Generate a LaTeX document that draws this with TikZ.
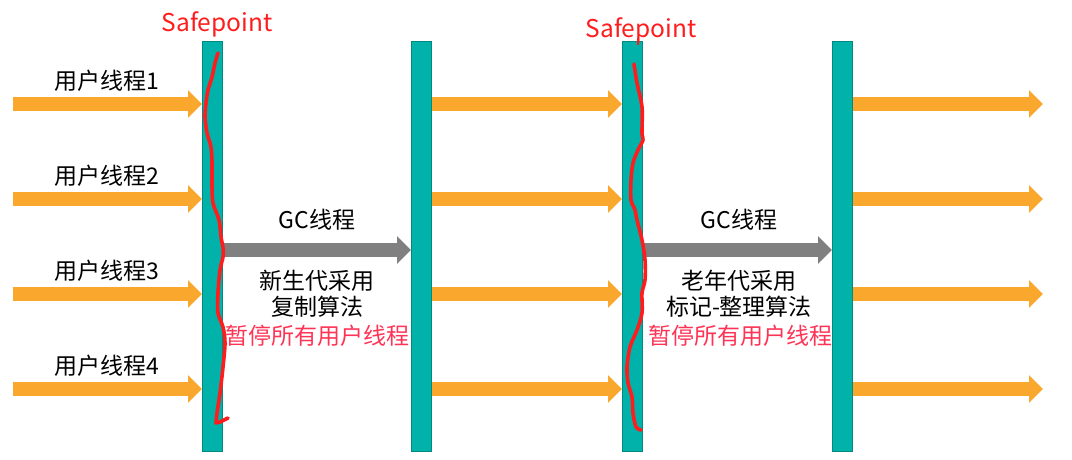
\documentclass[tikz,border=0pt]{standalone}
\usepackage{fontspec}
\setmainfont{Noto Sans CJK SC}
\usetikzlibrary{arrows.meta}
\definecolor{barfill}{RGB}{0,178,169}
\definecolor{barline}{RGB}{0,138,128}
\definecolor{flow}{RGB}{250,167,46}
\definecolor{gcgray}{RGB}{128,128,128}
\definecolor{markred}{RGB}{255,28,28}
\definecolor{pausered}{RGB}{255,51,85}
\begin{document}
\begin{tikzpicture}[x=1pt,y=-1pt,
  bar/.style={draw=barline,fill=barfill,line width=1pt,minimum width=20pt,minimum height=410pt,inner sep=0pt},
  flowarrow/.style={draw=flow,line width=14pt,-{Triangle[width=27pt,length=14pt]},fill=flow},
  gcarrow/.style={draw=gcgray,line width=14pt,-{Triangle[width=27pt,length=14pt]},fill=gcgray},
  lbl/.style={font=\fontsize{23}{26}\selectfont,inner sep=0pt,text=black},
  safe/.style={font=\fontsize{24.5}{28}\selectfont,inner sep=0pt,text=markred},
  pause/.style={font=\fontsize{23}{26}\selectfont,inner sep=0pt,text=pausered},
  squiggle/.style={draw=markred,line width=3.6pt,line cap=round,line join=round}]
\useasboundingbox (0,0) rectangle (1072,459);
% bars
\node[bar] (b1) at (212.5,246) {};
\node[bar] (b2) at (421.5,246) {};
\node[bar] (b3) at (632.5,246) {};
\node[bar] (b4) at (842.5,246) {};
% row coordinates
\coordinate (s1) at (13,104);
\coordinate (s2) at (13,199);
\coordinate (s3) at (13,294);
\coordinate (s4) at (13,389);
\coordinate (e1) at (1043,104);
\coordinate (e2) at (1043,199);
\coordinate (e3) at (1043,294);
\coordinate (e4) at (1043,389);
\coordinate (g) at (0,250);
% orange arrows
\foreach \i in {1,2,3,4}{
  \draw[flowarrow] (s\i) -- (s\i -| b1.west);
  \draw[flowarrow] (b2.east |- s\i) -- (b3.west |- s\i);
  \draw[flowarrow] (b4.east |- s\i) -- (e\i);
}
% gc arrows
\draw[gcarrow] (b1.east |- g) -- (b2.west |- g);
\draw[gcarrow] (b3.east |- g) -- (b4.west |- g);
% labels
\node[lbl] (u1) at (107,81) {用户线程1};
\node[lbl] (u2) at (107,176) {用户线程2};
\node[lbl] (u3) at (107,271) {用户线程3};
\node[lbl] (u4) at (107,366) {用户线程4};
\node[safe] (sp1) at (217,24) {Safepoint};
\node[safe] (sp2) at (641,30) {Safepoint};
\node[lbl] (gc1) at (317,220) {GC线程};
\node[lbl] (y1) at (317,281) {新生代采用};
\node[lbl] (y2) at (317,307) {复制算法};
\node[pause] (p1) at (317,336) {暂停所有用户线程};
\node[lbl] (gc2) at (739,220) {GC线程};
\node[lbl] (o1) at (739,281) {老年代采用};
\node[lbl] (o2) at (739,307) {标记-整理算法};
\node[pause] (p2) at (740,336) {暂停所有用户线程};
% red hand-drawn marks
\draw[squiggle] plot[smooth,tension=0.5] coordinates {(218,53) (215,63) (212,77) (208,90) (206,103) (205,117) (207,133) (211,147) (212,163) (212,187) (213,203) (219,220) (221,237) (223,248) (223,257) (220,270) (218,293) (218,313) (223,327) (225,343) (223,367) (220,393) (217,413) (216,423)} -- (220,422) -- (228,418);
\draw[squiggle] plot[smooth,tension=0.5] coordinates {(634,64) (637,83) (642,107) (642,133) (643,140) (638,150) (633,163) (631,180) (631,200) (635,210) (637,220) (642,240) (645,260) (645,280) (642,293) (642,313) (637,330) (630,347) (627,367) (628,383) (632,397) (633,413) (636,427) (641,430)};
\draw[squiggle,line width=2pt,line cap=butt] (638,38) -- (638,45);
\end{tikzpicture}
\end{document}
